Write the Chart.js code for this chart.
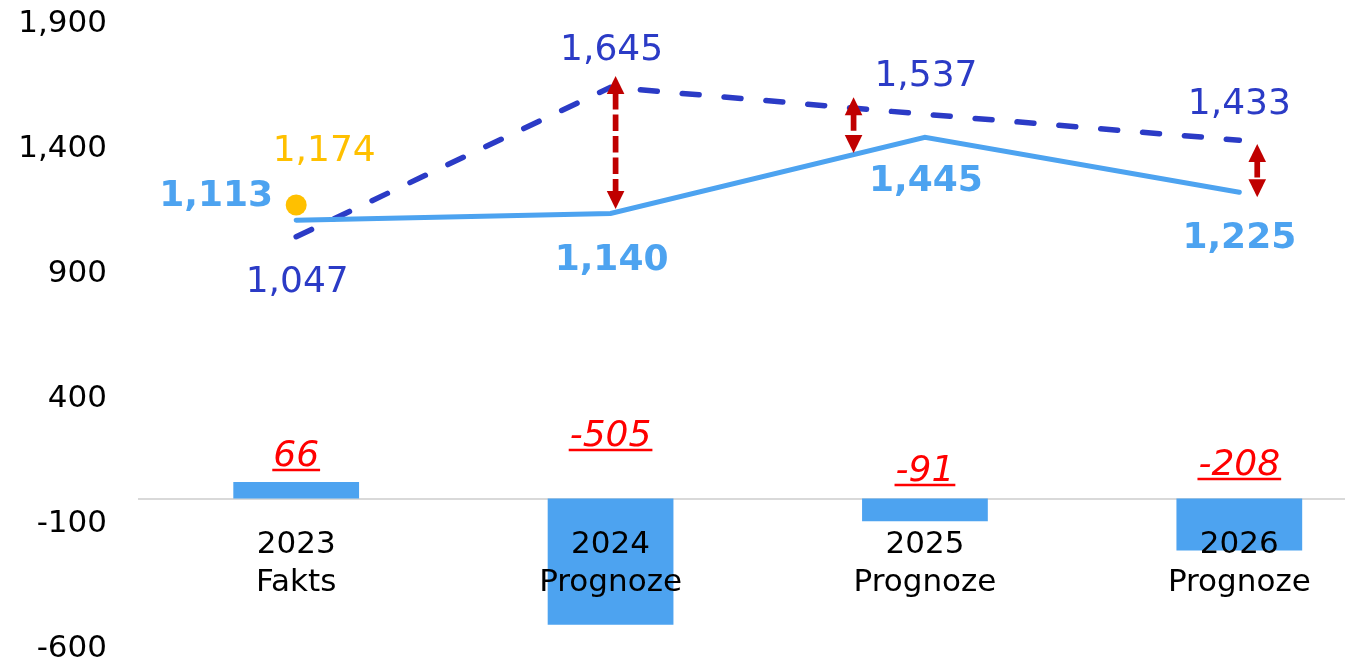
<!DOCTYPE html>
<html>
<head>
<meta charset="utf-8">
<script src="https://cdn.jsdelivr.net/npm/chart.js@4/dist/chart.umd.min.js"></script>
<style>
  html, body { margin: 0; padding: 0; overflow: hidden; background: #fff; width: 1345px; height: 667px; }
  #wrap { position: relative; width: 1407px; height: 667px; }
</style>
</head>
<body>
<div id="wrap"><canvas id="c"></canvas></div>
<script>
// ---- data ----
const categories = [['2023', 'Fakts'], ['2024', 'Prognoze'], ['2025', 'Prognoze'], ['2026', 'Prognoze']];
const actualValues = [1113, 1140, 1445, 1225];      // solid light-blue line
const plannedValues = [1047, 1645, 1537, 1433];     // dashed dark-blue line
const factMarkerValues = [1174, null, null, null];  // yellow dot
const differenceValues = [66, -505, -91, -208];     // bars
const yTickValues = [-600, -100, 400, 900, 1400, 1900];
const arrowPositions = [1.016, 1.773, 3.057];        // category index positions
const arrowTops = [1690, 1605, 1418];
const arrowBottoms = [1158, 1382, 1205];

// ---- styles ----
const FONT = "'DejaVu Sans', Verdana, sans-serif";
const LIGHT_BLUE = '#4DA3F0';
const DARK_BLUE = '#2B3BC6';
const YELLOW = '#FFC000';
const RED = '#FF0000';
const DARK_RED = '#C00000';

const fmt = v => v.toLocaleString('en-US');

// label offsets (pixels, relative to point / zero base)
const labelCfg = {
  actual:  { color: LIGHT_BLUE, weight: 'bold', style: 'normal', size: 36, dx: [-80, 1, 1, 0], dy: [-27, 43.5, 41, 43], anchor: 'point' },
  planned: { color: DARK_BLUE, weight: 'normal', style: 'normal', size: 36, dx: [1, 1, 1, 0], dy: [42, -40, -41, -39], anchor: 'point' },
  fact:    { color: YELLOW, weight: 'normal', style: 'normal', size: 36, dx: [28, 0, 0, 0], dy: [-57.5, 0, 0, 0], anchor: 'point' },
  diff:    { color: RED, weight: 'normal', style: 'italic', size: 36, dx: [0, 0, 0, 0], dy: [-45.5, -65.5, -30.5, -36.5], anchor: 'base', underline: true }
};

const labelPlugin = {
  id: 'valueLabels',
  afterDatasetsDraw(chart) {
    const ctx = chart.ctx;
    const yScale = chart.scales.y;
    chart.data.datasets.forEach((ds, di) => {
      const cfg = labelCfg[ds.key];
      if (!cfg) return;
      const meta = chart.getDatasetMeta(di);
      meta.data.forEach((el, i) => {
        const v = ds.data[i];
        if (v === null || v === undefined) return;
        const x = el.x + cfg.dx[i];
        const baseY = cfg.anchor === 'base' ? yScale.getPixelForValue(0) : el.y;
        const cy = baseY + cfg.dy[i];
        ctx.save();
        ctx.font = `${cfg.style} ${cfg.weight} ${cfg.size}px ${FONT}`;
        ctx.fillStyle = cfg.color;
        ctx.textAlign = 'center';
        ctx.textBaseline = 'alphabetic';
        const text = fmt(v);
        const baseline = cy + cfg.size * 0.3645;
        ctx.fillText(text, x, baseline);
        if (cfg.underline) {
          const w = ctx.measureText(text).width;
          ctx.strokeStyle = cfg.color;
          ctx.lineWidth = 2.5;
          ctx.beginPath();
          ctx.moveTo(x - w / 2 - 1, baseline + 4);
          ctx.lineTo(x + w / 2 + 1, baseline + 4);
          ctx.stroke();
        }
        ctx.restore();
      });
    });
  }
};

const arrowPlugin = {
  id: 'gapArrows',
  afterDatasetsDraw(chart) {
    const ctx = chart.ctx;
    const xs = chart.scales.x, ys = chart.scales.y;
    const headL = 18, headW = 8.8;
    arrowPositions.forEach((p, i) => {
      const x = xs.getPixelForValue(p);
      const yt = ys.getPixelForValue(arrowTops[i]);
      const yb = ys.getPixelForValue(arrowBottoms[i]);
      ctx.save();
      ctx.fillStyle = DARK_RED;
      ctx.strokeStyle = DARK_RED;
      ctx.beginPath();
      ctx.moveTo(x, yt);
      ctx.lineTo(x + headW, yt + headL);
      ctx.lineTo(x - headW, yt + headL);
      ctx.closePath();
      ctx.fill();
      ctx.beginPath();
      ctx.moveTo(x, yb);
      ctx.lineTo(x + headW, yb - headL);
      ctx.lineTo(x - headW, yb - headL);
      ctx.closePath();
      ctx.fill();
      ctx.lineWidth = 5.7;
      ctx.setLineDash([16.5, 5]);
      ctx.lineCap = 'butt';
      ctx.beginPath();
      ctx.moveTo(x, yt + headL - 1);
      ctx.lineTo(x, yb - headL);
      ctx.stroke();
      ctx.restore();
    });
  }
};

new Chart(document.getElementById('c'), {
  data: {
    labels: categories,
    datasets: [
      {
        key: 'fact', type: 'line', data: factMarkerValues, order: 0,
        showLine: false, pointRadius: 10.5, pointHoverRadius: 10.5,
        pointBackgroundColor: YELLOW, pointBorderWidth: 0, borderColor: YELLOW, backgroundColor: YELLOW
      },
      {
        key: 'actual', type: 'line', data: actualValues, order: 1,
        borderColor: LIGHT_BLUE, borderWidth: 5, pointRadius: 0, tension: 0, fill: false,
        borderCapStyle: 'round', borderJoinStyle: 'miter'
      },
      {
        key: 'planned', type: 'line', data: plannedValues, order: 2,
        borderColor: DARK_BLUE, borderWidth: 5.5, borderDash: [17, 25], borderCapStyle: 'round',
        pointRadius: 0, tension: 0, fill: false
      },
      {
        key: 'diff', type: 'bar', data: differenceValues, order: 3,
        backgroundColor: LIGHT_BLUE, borderWidth: 0,
        barPercentage: 0.4, categoryPercentage: 1
      }
    ]
  },
  options: {
    responsive: true,
    maintainAspectRatio: false,
    animation: false,
    events: [],
    layout: { padding: { left: 0, right: 0, top: 23.5, bottom: 18.5 } },
    plugins: { legend: { display: false }, tooltip: { enabled: false } },
    scales: {
      x: {
        type: 'category',
        position: { y: 0 },
        offset: true,
        grid: { display: false, drawTicks: false },
        border: { display: true, color: '#D9D9D9', width: 2 },
        ticks: {
          z: 1,
          color: '#000',
          font: { family: FONT, size: 31, lineHeight: 1.23 },
          padding: 27,
          maxRotation: 0,
          autoSkip: false
        }
      },
      y: {
        type: 'linear',
        min: -600,
        max: 1900,
        grid: { display: false, drawTicks: false },
        border: { display: false },
        afterBuildTicks: s => { s.ticks = yTickValues.map(v => ({ value: v })); },
        afterFit: s => { s.width = 139; s.paddingTop = 0; s.paddingBottom = 0; },
        ticks: {
          color: '#000',
          font: { family: FONT, size: 31 },
          padding: 32,
          callback: v => fmt(v)
        }
      }
    }
  },
  plugins: [labelPlugin, arrowPlugin]
});
</script>
</body>
</html>
